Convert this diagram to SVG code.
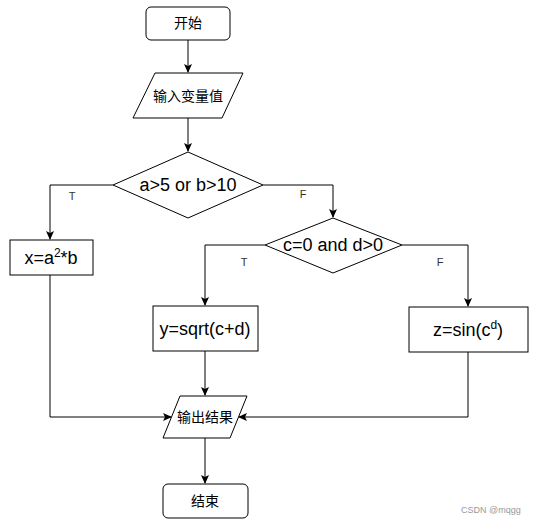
<svg xmlns="http://www.w3.org/2000/svg" width="535" height="525" viewBox="0 0 535 525">
<style>
.s{fill:#fff;stroke:#000;stroke-width:1}
.c{fill:none;stroke:#000;stroke-width:1}
.t{font-family:"Liberation Sans",Arial,sans-serif;font-size:18px;fill:#000;text-anchor:middle}
.z{font-family:"Liberation Sans","Noto Sans CJK SC",sans-serif;font-size:14px;fill:#000;text-anchor:middle}
.l{font-family:"Liberation Sans",Arial,sans-serif;font-size:11px;fill:#333;text-anchor:middle}
</style>
<defs>
<marker id="a" markerWidth="10" markerHeight="8" refX="8" refY="4" orient="auto" markerUnits="userSpaceOnUse">
<path d="M0,0 L9,4 L0,8 L2,4 z" fill="#000"/>
</marker>
</defs>
<rect width="535" height="525" fill="#fff"/>
<g id="connectors">
<path class="c" d="M188,40 V72" marker-end="url(#a)"/>
<path class="c" d="M188,118 V151" marker-end="url(#a)"/>
<path class="c" d="M113,185 H50 V239" marker-end="url(#a)"/>
<path class="c" d="M263,185 H333 V217" marker-end="url(#a)"/>
<path class="c" d="M265,245 H205 V305" marker-end="url(#a)"/>
<path class="c" d="M402,245 H468 V306" marker-end="url(#a)"/>
<path class="c" d="M205,351 V395" marker-end="url(#a)"/>
<path class="c" d="M50,275 V417 H171" marker-end="url(#a)"/>
<path class="c" d="M468,352 V417 H239" marker-end="url(#a)"/>
<path class="c" d="M205,438 V483" marker-end="url(#a)"/>
<text class="l" x="72" y="200">T</text>
<text class="l" x="303" y="198">F</text>
<text class="l" x="244" y="266">T</text>
<text class="l" x="440" y="266">F</text>
</g>
<g id="start">
<rect class="s" x="146" y="7" width="84" height="33" rx="5"/>
<text class="z" x="188" y="28">开始</text>
</g>
<g id="input">
<polygon class="s" points="155,73 243,73 222,118 133,118"/>
<text class="z" x="188" y="101">输入变量值</text>
</g>
<g id="cond1">
<polygon class="s" points="188,152 263,185 188,218 113,185"/>
<text class="t" x="188" y="191">a&gt;5 or b&gt;10</text>
</g>
<g id="boxX">
<rect class="s" x="10" y="240" width="83" height="35"/>
<text class="t" x="51" y="264">x=a<tspan dy="-7" font-size="12">2</tspan><tspan dy="7">*b</tspan></text>
</g>
<g id="cond2">
<polygon class="s" points="333,218 402,245 333,273 265,245"/>
<text class="t" x="333" y="251">c=0 and d&gt;0</text>
</g>
<g id="boxY">
<rect class="s" x="153" y="306" width="105" height="45"/>
<text class="t" x="205" y="335">y=sqrt(c+d)</text>
</g>
<g id="boxZ">
<rect class="s" x="409" y="307" width="119" height="45"/>
<text class="t" x="468" y="336">z=sin(c<tspan dy="-7" font-size="12">d</tspan><tspan dy="7">)</tspan></text>
</g>
<g id="output">
<polygon class="s" points="180,396 247,396 230,438 163,438"/>
<text class="z" x="205" y="422">输出结果</text>
</g>
<g id="end">
<rect class="s" x="163" y="484" width="85" height="34" rx="5"/>
<text class="z" x="205" y="506">结束</text>
</g>
<text x="461" y="513" font-family="Liberation Sans,Arial,sans-serif" font-size="9" fill="#999">CSDN @mqgg</text>
</svg>
